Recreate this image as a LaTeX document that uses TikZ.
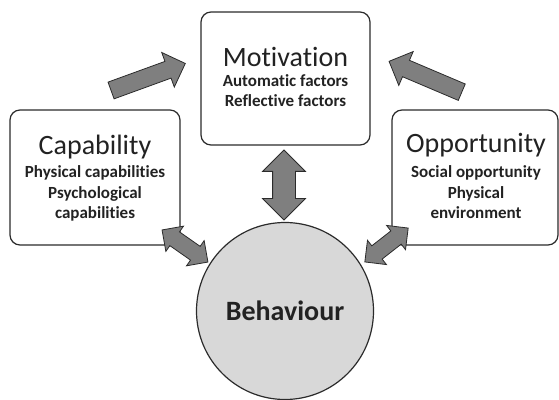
\documentclass[tikz,border=0pt]{standalone}
\usepackage{fontspec}
\setmainfont{Carlito}[Ligatures=NoCommon]
\usetikzlibrary{shapes.arrows}

\definecolor{boxline}{HTML}{2B2B2B}
\definecolor{arrowgray}{HTML}{7F7F7F}
\definecolor{behfill}{HTML}{D8D8D8}
\definecolor{textgray}{HTML}{222222}

\tikzset{
  comp/.style={draw=boxline, line width=1.2pt, rounded corners=10pt, fill=white},
  comptitle/.style={anchor=base, inner sep=0pt, text=textgray, font=\fontsize{28}{30}\selectfont},
  % base of a multi-line node is its last line
  compitems/.style={anchor=base, inner sep=0pt, align=center, text=textgray, font=\fontsize{17}{20.5}\selectfont\bfseries},
  fatarrow/.style={single arrow, draw=boxline, fill=arrowgray, line width=0.8pt,
    inner xsep=0pt, inner ysep=8.5pt, single arrow head extend=9.5pt, minimum width=0pt, minimum height=79pt},
  fatdouble/.style 2 args={double arrow, draw=boxline, fill=arrowgray, line width=0.8pt,
    inner xsep=0pt, inner ysep=#1, double arrow head extend=#2, minimum width=0pt}
}

\begin{document}
\begin{tikzpicture}[x=1pt, y=1pt]
  \useasboundingbox (0,0) rectangle (559,399);
  % draw rounded component boxes
  \node[comp, minimum width=169pt, minimum height=133pt] (mot) at (285.5,320.5) {};
  \node[comp, minimum width=170pt, minimum height=135pt] (cap) at (95,221.5) {};
  \node[comp, minimum width=166pt, minimum height=135pt] (opp) at (475,221.5) {};
  % behaviour circle
  \node[circle, draw=boxline, line width=1.2pt, fill=behfill, minimum size=177pt, inner sep=0pt,
    text=textgray, font=\fontsize{28}{30}\selectfont\bfseries] (beh) at (285,88) {Behaviour};
  % box titles and their items
  \node[comptitle] (mot_title) at (285.5,332) {Motivation};
  \node[compitems] (mot_items) at (285.5,292) {Automatic factors\\Reflective factors};
  \node[comptitle] (cap_title) at (95,244) {Capability};
  \node[compitems] (cap_items) at (95,180) {Physical capabilities\\Psychological\\capabilities};
  \node[comptitle] (opp_title) at (476,246) {Opportunity};
  \node[compitems] (opp_items) at (476,180) {Social opportunity\\Physical\\environment};
  % grey block arrows between the components
  \node[fatarrow, rotate=20] (cap_mot) at (144,320.5) {};
  \node[fatarrow, rotate=157] (opp_mot) at (429.5,320.5) {};
  \node[fatdouble={11pt}{10pt}, minimum height=70pt, rotate=90] (mot_beh) at (284,214) {};
  \node[fatdouble={8pt}{7pt}, minimum height=56pt, rotate=-35] (cap_beh) at (185,153) {};
  \node[fatdouble={8pt}{7pt}, minimum height=55pt, rotate=38] (opp_beh) at (386.5,154) {};
\end{tikzpicture}
\end{document}
